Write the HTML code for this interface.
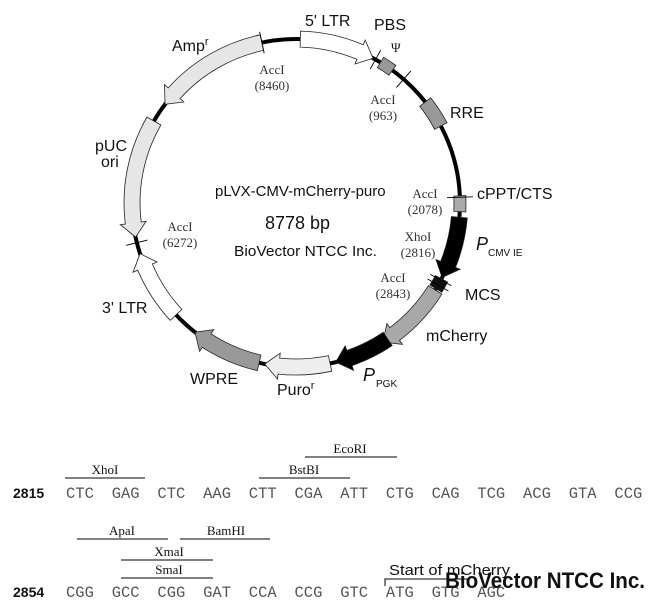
<!DOCTYPE html>
<html><head><meta charset="utf-8"><style>
html,body{margin:0;padding:0;background:#fff;width:659px;height:612px;overflow:hidden}
svg{display:block}
.s{font-family:"Liberation Sans",sans-serif;fill:#111}
.r{font-family:"Liberation Serif",serif;fill:#3a3030;font-size:13px}
.m{font-family:"Liberation Mono",monospace;fill:#555;font-size:15.5px}
</style></head><body>
<svg id="v" width="659" height="612" viewBox="0 0 659 612" xmlns="http://www.w3.org/2000/svg">
<circle cx="296" cy="203" r="164" fill="none" stroke="#000" stroke-width="4"/>
<g id="f"></g>
<g class="s" font-size="16">
<text x="305" y="26">5' LTR</text>
<text x="374" y="30">PBS</text>
<text x="391" y="52" class="r" font-size="15" style="fill:#111">Ψ</text>
<text x="172" y="51">Amp<tspan font-size="11" dy="-6">r</tspan></text>
<text x="450" y="118">RRE</text>
<text x="95" y="151">pUC</text>
<text x="101" y="167">ori</text>
<text x="477" y="199">cPPT/CTS</text>
<text x="476" y="250" font-style="italic" font-size="18">P</text>
<text x="488" y="256" font-size="10">CMV IE</text>
<text x="465" y="300">MCS</text>
<text x="102" y="313">3' LTR</text>
<text x="426" y="341">mCherry</text>
<text x="190" y="384">WPRE</text>
<text x="277" y="395">Puro<tspan font-size="11" dy="-6">r</tspan></text>
<text x="363" y="381" font-style="italic" font-size="18">P</text>
<text x="376" y="387" font-size="10">PGK</text>
<text x="215" y="196" font-size="15">pLVX-CMV-mCherry-puro</text>
<text x="265" y="229" font-size="18">8778 bp</text>
<text x="234" y="256" font-size="15" textLength="143" lengthAdjust="spacingAndGlyphs">BioVector NTCC Inc.</text>
</g>
<g class="r" text-anchor="middle">
<text x="272" y="74">AccI</text><text x="272" y="90">(8460)</text>
<text x="383" y="104">AccI</text><text x="383" y="120">(963)</text>
<text x="425" y="198">AccI</text><text x="425" y="214">(2078)</text>
<text x="180" y="231">AccI</text><text x="180" y="247">(6272)</text>
<text x="418" y="241">XhoI</text><text x="418" y="257">(2816)</text>
<text x="393" y="282">AccI</text><text x="393" y="298">(2843)</text>
</g>
<!-- sequence -->
<g stroke="#000" stroke-width="1">
<line x1="65" y1="478" x2="145" y2="478"/>
<line x1="259" y1="478" x2="350" y2="478"/>
<line x1="305" y1="457" x2="397" y2="457"/>
<line x1="77" y1="539" x2="168" y2="539"/>
<line x1="180" y1="539" x2="270" y2="539"/>
<line x1="121" y1="560" x2="213" y2="560"/>
<line x1="121" y1="578" x2="213" y2="578"/>
<polyline points="385,586 385,579 470,579" fill="none"/>
</g>
<g class="r" font-size="16" text-anchor="middle" style="fill:#111">
<text x="105" y="474">XhoI</text>
<text x="304" y="474">BstBI</text>
<text x="350" y="453">EcoRI</text>
<text x="122" y="535">ApaI</text>
<text x="226" y="535">BamHI</text>
<text x="169" y="556">XmaI</text>
<text x="169" y="574">SmaI</text>
</g>
<text class="s" x="389" y="575" font-size="15" textLength="121" lengthAdjust="spacingAndGlyphs">Start of mCherry</text>
<text class="s" x="13" y="498" font-size="14" font-weight="bold">2815</text>
<text class="s" x="13" y="597" font-size="14" font-weight="bold">2854</text>
<g id="seq" class="m"></g>
<text class="s" x="445" y="588" font-size="22" font-weight="bold" textLength="200" lengthAdjust="spacingAndGlyphs">BioVector NTCC Inc.</text>
</svg>
<script>
var cx=296,cy=203,R=164,NS="http://www.w3.org/2000/svg";
function P(a,r){a=a*Math.PI/180;return [cx+r*Math.sin(a),cy-r*Math.cos(a)];}
function pt(a,r){var p=P(a,r);return p[0].toFixed(1)+","+p[1].toFixed(1);}
var g=document.getElementById("f");
function add(tag,at){var e=document.createElementNS(NS,tag);for(var k in at)e.setAttribute(k,at[k]);g.appendChild(e);return e;}
function arrow(a1,a2,fill,w,hl){
 w=w||7;hl=hl||5;var dir=a2>a1?1:-1;var ab=a2-dir*hl;
 var ro=R+w,ri=R-w,sw=dir>0?1:0;
 var big=Math.abs(ab-a1)>180?1:0;
 var d="M"+pt(a1,ro)+" A"+ro+","+ro+" 0 "+big+" "+sw+" "+pt(ab,ro)+" L"+pt(ab,R+w+5)+" L"+pt(a2,R)+" L"+pt(ab,R-w-5)+" L"+pt(ab,ri)+" A"+ri+","+ri+" 0 "+big+" "+(1-sw)+" "+pt(a1,ri)+" Z";
 add("path",{d:d,fill:fill,stroke:"#222","stroke-width":0.8});
}
function box(a1,a2,fill,w){w=w||6;var ro=R+w,ri=R-w;
 var d="M"+pt(a1,ro)+" A"+ro+","+ro+" 0 0 1 "+pt(a2,ro)+" L"+pt(a2,ri)+" A"+ri+","+ri+" 0 0 0 "+pt(a1,ri)+" Z";
 add("path",{d:d,fill:fill,stroke:"#222","stroke-width":0.8});}
function tick(a,l){l=l||11;var p=P(a,R-l),q=P(a,R+l);add("line",{x1:p[0],y1:p[1],x2:q[0],y2:q[1],stroke:"#000","stroke-width":0.9});}
arrow(1.5,28,"#fff",8);
box(31,36,"#999",6);
box(52,62,"#999",7);
box(87.5,93,"#aaa",6);
arrow(95,117,"#000",8);
box(117.5,121.5,"#111",7);
arrow(122,148,"#a8a8a8",8);
arrow(146,166,"#000",8);
arrow(168,191,"#eee",8);
arrow(193,218,"#999",8);
arrow(227,252,"#fff",8);
arrow(300,258,"#e6e6e6",8);
arrow(348,307,"#e6e6e6",8);
tick(348);tick(29);tick(41);tick(88,13);tick(256);tick(118,12);tick(120,12);
var s1="CTC GAG CTC AAG CTT CGA ATT CTG CAG TCG ACG GTA CCG".split(" ");
var s2="CGG GCC CGG GAT CCA CCG GTC ATG GTG AGC".split(" ");
var sq=document.getElementById("seq");
function row(a,y){for(var i=0;i<a.length;i++){var t=document.createElementNS(NS,"text");t.setAttribute("x",66+i*45.7);t.setAttribute("y",y);t.textContent=a[i];sq.appendChild(t);}}
row(s1,498);row(s2,597);
</script>
</body></html>
